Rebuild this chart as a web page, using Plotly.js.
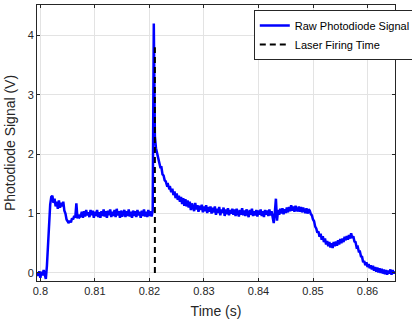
<!DOCTYPE html>
<html>
<head>
<meta charset="utf-8">
<script src="https://cdn.plot.ly/plotly-3.0.1.min.js"></script>
<style>html,body{margin:0;padding:0;background:#fff;}#chart{width:412px;height:322px;}</style>
</head>
<body>
<div id="chart"></div>
<script>
// Sample grid of the recorded signal
const timeStart = 0.7994;
const timeStep = 0.0002;

// Raw photodiode signal (V), one value per sample
const signalValues = [
  0.01,-0.05,0.03,-0.08,0.02,-0.04,0.05,-0.03,-0.1,0.12,
  0.45,0.9,1.15,1.28,1.3,1.18,1.25,1.12,1.2,1.08,
  1.22,1.1,1.18,1.12,1.2,1.05,1.0,0.9,0.86,0.84,
  0.88,0.85,0.92,0.9,0.96,0.93,1.17,0.92,0.98,0.94,
  0.96,1.03,0.93,1.04,0.95,1.06,0.97,1.02,0.94,1.06,
  0.97,1.05,0.93,1.03,0.96,1.06,0.94,1.02,0.93,1.04,
  0.96,1.07,0.95,1.04,0.93,1.05,0.97,1.07,0.94,1.03,
  0.96,1.06,0.94,1.08,0.97,1.04,0.93,1.05,0.95,1.03,
  1.06,0.94,1.04,0.96,1.07,0.95,1.03,0.93,1.05,0.96,
  1.04,0.94,1.06,0.97,1.03,0.93,1.05,0.96,1.07,0.95,
  1.03,0.94,1.06,0.96,1.04,0.95,1.05,4.2,2.3,2.1,
  2.02,1.93,1.9,1.78,1.78,1.66,1.64,1.56,1.54,1.48,
  1.49,1.43,1.44,1.36,1.42,1.31,1.37,1.26,1.34,1.23,
  1.3,1.2,1.28,1.16,1.26,1.13,1.24,1.12,1.22,1.1,
  1.2,1.06,1.17,1.08,1.04,1.18,1.07,1.14,1.03,1.13,
  1.06,1.15,1.02,1.12,1.04,1.14,1.01,1.11,1.03,1.12,
  1.0,1.1,1.02,1.12,0.98,1.08,1.01,1.11,0.97,1.07,
  1.01,1.1,0.96,1.07,0.99,1.09,0.97,1.06,1.0,1.08,
  0.98,1.07,0.96,1.08,1.0,0.95,1.06,0.98,1.09,0.97,
  1.05,0.96,1.07,0.99,0.94,1.06,0.98,1.08,0.96,1.04,
  0.97,1.06,0.95,1.05,0.98,1.07,0.96,1.04,0.94,1.06,
  0.98,1.05,0.96,1.07,0.97,1.04,0.9,0.84,1.02,1.25,
  0.88,1.06,0.98,1.08,1.0,1.09,0.99,1.07,1.01,1.1,
  1.02,1.11,1.04,1.14,1.05,1.12,1.03,1.13,1.06,1.04,
  1.12,1.03,1.11,1.02,1.1,1.04,1.01,1.09,1.0,1.07,
  1.05,0.99,0.97,0.9,0.87,0.78,0.75,0.68,0.7,0.61,
  0.66,0.56,0.62,0.52,0.58,0.48,0.54,0.45,0.52,0.43,
  0.5,0.42,0.52,0.45,0.53,0.46,0.55,0.48,0.57,0.5,
  0.58,0.52,0.61,0.55,0.62,0.56,0.64,0.58,0.67,0.59,
  0.62,0.53,0.52,0.43,0.44,0.36,0.36,0.28,0.27,0.18,
  0.2,0.13,0.18,0.1,0.15,0.08,0.13,0.06,0.12,0.04,
  0.1,0.02,0.09,0.01,0.08,0.0,0.07,-0.01,0.06,-0.02,
  0.05,-0.03,0.04,-0.01,0.06,-0.03,0.05,-0.01,0.03
];

// Laser firing marker
const laserTime = [0.821, 0.821];
const laserLevel = [0, 3.8];

const seriesNames = ["Raw Photodiode Signal", "Laser Firing Time"];
const xTickValues = [0.8, 0.81, 0.82, 0.83, 0.84, 0.85, 0.86];
const xTickLabels = ["0.8", "0.81", "0.82", "0.83", "0.84", "0.85", "0.86"];
const yTickValues = [0, 1, 2, 3, 4];

const times = signalValues.map((v, i) => +(timeStart + timeStep * i).toFixed(5));

const font = "Liberation Sans, Arial, Helvetica, sans-serif";
const axisCommon = {
  showgrid: true, gridcolor: "#e3e3e3", gridwidth: 1,
  zeroline: false, showline: true, linecolor: "#262626", linewidth: 1,
  mirror: "ticks", ticks: "inside", ticklen: 3, tickcolor: "#262626",
  automargin: false,
  tickfont: {family: font, size: 11, color: "#262626"}
};

const data = [
  {x: times, y: signalValues, type: "scatter", mode: "lines", name: seriesNames[0],
   line: {color: "#0000ff", width: 2.5}},
  {x: laserTime, y: laserLevel, type: "scatter", mode: "lines", name: seriesNames[1],
   line: {color: "#000000", width: 2, dash: "6px,4px"}}
];

const layout = {
  width: 412, height: 322,
  margin: {l: 37, r: 17, t: 5, b: 41, pad: 0, autoexpand: false},
  paper_bgcolor: "#ffffff", plot_bgcolor: "#ffffff",
  showlegend: true,
  legend: {xref: "container", yref: "container", x: 0.616, y: 0.969,
    xanchor: "left", yanchor: "top",
    bgcolor: "#ffffff", bordercolor: "#262626", borderwidth: 1,
    font: {family: font, size: 11, color: "#000000"}, itemwidth: 30,
    tracegroupgap: 0},
  xaxis: Object.assign({}, axisCommon, {
    range: [0.79938, 0.86504], tickvals: xTickValues, ticktext: xTickLabels,
    title: {text: "Time (s)", font: {family: font, size: 14, color: "#262626"}, standoff: 9}
  }),
  yaxis: Object.assign({}, axisCommon, {
    range: [-0.135, 4.51], tickvals: yTickValues,
    title: {text: "Photodiode Signal (V)", font: {family: font, size: 14, color: "#262626"}, standoff: 8}
  })
};

Plotly.newPlot("chart", data, layout, {displayModeBar: false, staticPlot: true});
</script>
</body>
</html>
